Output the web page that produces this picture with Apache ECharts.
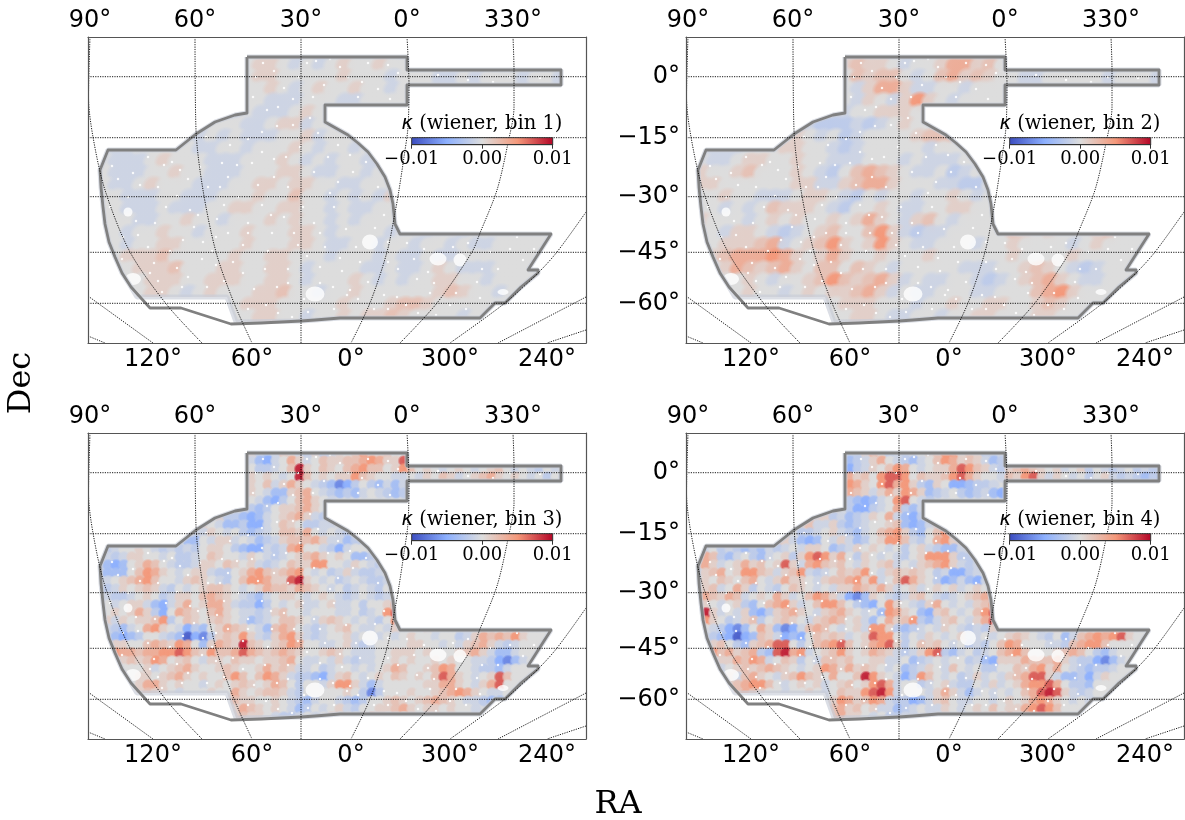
<!DOCTYPE html>
<html><head><meta charset="utf-8">
<style>html,body{margin:0;padding:0;background:#fff}#c{width:1185px;height:820px}</style>
<script src="https://cdn.jsdelivr.net/npm/echarts@6/dist/echarts.min.js"></script>
</head><body><div id="c"></div>
<script>
// Tick labels
const raTopPos=[2,107,213,319,425], raTopLabels=['90°','60°','30°','0°','330°'];
const raBottomPos=[65,164,263,362,459], raBottomLabels=['120°','60°','0°','300°','240°'];
const decPos=[39.7,100.7,159.7,215.3,266.3], decLabels=['0°','−15°','−30°','−45°','−60°'];
const binNames=['bin 1','bin 2','bin 3','bin 4'];
const colorTicks=[-0.01,0,0.01], colorTickLabels=['−0.01','0.00','0.01'];
// Map-plane geometry, in units of the panel's axes
const outline=[[159,20],[319,20],[319,33],[473,33],[473,48],[319,48],[319,68],[237,68],[237,85],[260,98],[270,106],[280,115],[289,127],[297,140],[302,153],[305,167],[307,187],[312,197],[463,197],[440,233],[450,233],[450,236],[433,250],[417,266],[407,266],[392,281],[252,281],[227,283],[213,284],[173,286],[143,287],[93,271],[62,271],[43,250],[34,236],[27,220],[21,205],[17,187],[15,170],[13,150],[12,133],[20,113],[88,113],[108,97],[127,85],[147,78],[159,76]];
const dataEdge=[[159,20],[319,20],[319,33],[473,33],[473,48],[319,48],[319,68],[237,68],[237,85],[260,98],[270,106],[280,115],[289,127],[297,140],[302,153],[305,167],[307,187],[312,197],[463,197],[440,233],[450,233],[450,236],[433,250],[417,266],[407,266],[392,281],[252,281],[227,283],[213,284],[148,285],[139,260],[49,260],[43,250],[34,236],[27,220],[21,205],[17,187],[15,170],[13,150],[12,133],[20,113],[88,113],[108,97],[127,85],[147,78],[159,76]];
const decLines=[39.7,100.7,159.7,215.3,266.3];
const meridians=[
 [[213,0],[213,306]],
 [[107,0],[108,93],[115,153],[128,215],[146,266],[164,306]],
 [[2,0],[0.5,60],[5,100],[17,153],[42,215],[79,268],[114,306]],
 [[0,259],[65,306]],
 [[0,299],[17,306]],
 [[319,0],[321,48],[320,90],[316,120],[311,153],[307,176],[299,215],[282,266],[263,306]],
 [[425,0],[426,33],[426,70],[420,106],[409,153],[392,196],[384,215],[349,266],[312,306]],
 [[498,175],[469,215],[450,236],[417,266],[362,306]],
 [[498,260],[410,306]],
 [[498,293],[459,306]]
];
const maskHoles=[[227,257,19,15],[282,205,16,15],[350,222,17,13],[372,223,13,13],[415,255,11,6],[40,175,9,9],[45,242,16,12]];
const specks=[[175,26],[219,26],[196,51],[179,73],[222,81],[174,95],[149,128],[134,126],[174,115],[24,129],[60,120],[45,136],[164,126],[189,89],[84,125],[92,133],[102,173],[89,159],[129,182],[174,168],[184,196],[155,208],[115,205],[95,203],[67,186],[219,219],[210,208],[232,230],[237,210],[177,232],[89,231],[119,250],[74,255],[140,196],[189,250],[155,236],[62,236],[319,206],[252,221],[287,191],[272,225],[262,253],[245,250],[309,260],[329,242],[365,210],[259,258],[392,261],[435,223],[389,245],[429,200],[342,256],[405,45],[422,40],[274,45],[280,26],[452,41],[240,120],[250,145],[265,135],[200,150],[215,170],[150,160],[120,150],[198,120],[228,24],[260,40],[300,28],[205,62],[183,178],[132,150],[70,150],[40,160],[35,200],[60,210],[145,225],[200,232],[225,60],[310,36],[350,38],[380,43],[128,228],[300,225],[280,245],[340,235],[402,215],[362,268],[300,272],[220,275],[190,276],
[168,40],[186,34],[242,22],[252,30],[290,52],[270,60],[302,62],[210,40],[236,48],[165,60],[190,70],[205,88],[230,96],[160,102],[142,108],[118,100],[250,108],[262,118],[278,125],[226,135],[186,140],[170,148],[140,140],[112,130],[100,142],[76,128],[52,148],[30,142],[22,170],[48,184],[78,170],[110,178],[136,168],[160,186],[196,180],[226,186],[246,170],[272,160],[290,150],[296,178],[258,192],[232,196],[206,196],[180,214],[160,196],[124,214],[106,190],[82,214],[50,198],[34,222],[66,226],[100,240],[114,222],[136,244],[166,252],[200,246],[216,262],[246,272],[270,262],[286,272],[318,268],[330,276],[348,278],[378,272],[394,232],[410,232],[422,212],[446,212],[336,212],[310,232],[296,258],[268,210],[326,222],[346,246],[368,256],[380,206],[300,205],[254,234],[160,272],[178,268],[204,280],[232,246],[186,122],[212,110],[242,156],[128,200],[70,244],[94,250]];
const levelCodes='abcdefghijklm';
const levels=[-0.009,-0.007,-0.005,-0.0035,-0.002,-0.001,0,0.001,0.002,0.0035,0.005,0.007,0.009];
// 12-unit cells, bins 1 and 2
const coarseStart=[0,13,13,13,13,13,10,9,8,1,1,1,1,1,1,1,1,2,2,2,3,3,11,12];
const bin1=['','gghgfgfghgghgf','ghhgfgfghgghggggfggggffgfgg','ghhggggghgggfgggffgfgggfggf','gghgfghgghggfg','ggfffgggffgggg','ggfgfffghg','ggggffghhfgg','gfgfgfffgghfgg','gffgggggffggfggghgfggfg','gfffghgggfffggghgfgfggff','gfffgghggfffggghhgffggfg','gffghgggfffgghhghhggffggg','ggfffggfffggghggiggfgfgfh','ggfffgfffgghhgghhggfgffgg','gggffgghggfggghghggfgfggg','ggfgghggfggghggghhgfggggfggfggfggggggg','gfgghhggggghggghhgffggfggfggfgffgggggg','ghhhiggggghgghhgggfgggfgffgffggggggg','gghhhiggghhgghhgfggggffgffghgfffgggg','gghhhgghhhgghhgfggghgfgfgghhggfggg','gghhgfghggghhiggfgghgggggghihggfg','gghhhggggghggghiihgggggg','gghhggfgghghhihggggfg'];
const bin2=['','hhggffghiighhg','hihhgfgghjjhiggggfggfggfggg','gihiigfgijhihggffgggggfgggf','gfhjjhffggfggg','gfhgfhkhgfgggg','gfffgghhhg','gfeeefefghgg','ghgfgefgggghii','ffffggghhggfefgggggfggg','gffghhgghggfffgggfgfffgg','hgghiggghgfegijihgffgefg','hhgggggghhffhijjhgggffeeg','gghggfffghhgfegfggfgghgfg','ggfgfgihhhgfegghgffgghhgg','hgggfghghgghghjhgfhigfggg','ggfhhgfefghiggikhfeffgggggihghggghiggg','ghhhijfghikhghkhgffgggfgghggggfghgggg','hijjjkjhghjhgghggghgggggghgggghggggg','ghjihijhgiigihgfgggggfffgghihgfefggg','gghgfgghikihijhfgffggfefghijhgffgg','gghggfghghhijhfgffgggffgggijkhggg','gghhhgggfgghgghhgghihggg','gghhgffggfgghhggghhgg'];
// 8-unit cells, bins 3 and 4
const fineStart=[0,0,19,19,19,19,19,19,19,18,15,13,12,11,2,1,1,1,1,1,1,1,2,2,2,2,2,3,3,4,4,5,6,17,17,18];
const bin3=['','','ghedfihfehefhgikihigg','gfdcfgjhfgihhiijkjhhl','hgeefgimhgihgijkiighkighgfghgfghigfgfegfg','ihghgfgmighghhkihggffgfhgihfghijhghgfgegf','ihgifhjhgfedbcegedfdf','jhgfddhijgfededfgfedef','hgfdcegijhgf','gfedeghhijhg','gheedcdfghijhfee','hhgfddeccfgihgeeffg','dffhgfgedefgiihjgfgfe','gddgfhhfgfdefhiiijhffde','efgghgfefefeghhgedccfefjkggfecfgg','gfefhhggfgeefgihggfhgfefghijhghgddeg','edcdghjigfeefhhgihghfefgihhkkggfhgfe','edddgikjhgfghhfeeghjkihijkgfgefhfeefg','ffghijkiggfhihgfegikkjhhlmhgfgefgfeef','fefhghihfegfghiihgfghjiihjihgfgefgfeg','gfeefghgefhhgijihgfedfghhgfghgfefgfefg','hgfghhfdcfhjghjjhfeecegfghffghffgegghj','ghghjhecgjihgijhgffefhiggfgggffgefgkl','hfhghhikegihghihgfdefgiihgfhihgfgfegk','fedfgjkhgfcedghjihgfdijigfefghigffgfhggghfggffghhghigggg','edcdeggfedacbehihkhfehjkhfefgghfggfgfghggfggefhjijikhgg','fhhggijihkjgdhjihmihghikjggffghfefgggghhggfgfhijhfefgg','kjjijjkklkihkiijljihijihgghihgfffgghhhghggghijhfddfgg','hhihikjghigfhhgihhghhijgffgfhfeffgghghgghghggffecbdfg','ggghfghijhgghihgghjhihffgefggfgfghjigghikjggfeedfggg','hghhghijhghggikigikjhfeedcfhigfghgihghgiljhgfghligg','ghjjhghggfghghihghjigeggfhkkhfdfggggghhjjhgfhjlgg','hihhgfggghggjhghiihfeggggghgebeggghgghijkjhgffgg','hihhgghgfedfggfedegghihghijihgffedd','ghjihghgfdegfghfegghhijhghhghggf','hihhgfeefgfghggghihghg'];
const bin4=['','','feehjhefefghikkhiheef','edefhjgfedfgikjhihfde','dcefhgikjgfghhjlkihfehijihghfghegfefgefee','hjhigkllkgihhikljhggfihklhfhgfgeghfefeded','ikjhgkljkhedhgccdeef','hjihfhjhkjhdefgedefdc','gedcdfgklgfe','hgeccefgjedf','ihhefdefhgjfdcef','ghiffhedefgghidcdfh','hgeefghfedfgijkhedgik','ihfdcdgfhfdeghkkifegjkh','fgefededfefgfhhgdefhghgfgeghfeddf','hjiedfgedfghehklkhjgehgfgfeghkkkhee','ijhfghjhighlhfjkihigfhghifgfhijkhfef','fhijghkkihfhikfefgihikgfhihihgefccefg','ghgihgijgfhjhhgfhiijkhkfgiljhgecdfdcf','hhifgjhegfegihgfgfhhjihjhfghfghghfghg','ijihjifghgjhfgikjhfcbdhgfefhigfefghijh','jhgfghedgijkhfgikkigedcgkhgfehjgfgfhik','mhfgfhdcehijhgfhijhgfgdkjhgdchigfgikl','khgefhieghihgfhijighfdgjhikedfhigfhjl','gfecbdgjhdbcfijigfghfkkhedefgfhgfefehgfghfeghefghijkjhgg','fedcacdihfcdcgihihfghlkkgegfhgfghffgfghihgfegdfijkjklhg','hhigedhijllgegijklighjklhegihigfgefegikjgggffeijkkiggg','kijhijedlmjkfghikhghjihfefhkledfgefgijkiggghijigedfgg','ghhjikjfgihegfiihigghhffgdefgfggefdchhhjiiijhfeecbdfg','fghihijihgfghkjhjhihgfgdefhgfigfgeeggihjkhjgfedeefgg','ghfijhgfhikihgjggimkhgfcekigfgefhfgfhijllhfddecfhgg','hijkkigfghghfghighkljfggefghfeegfhfghjkkljgeedggg','ijihggfgghgfgihhklmkfgggfhjhfdfgfgfgijlmlhfefgg','ghkjhikjfeecdfhigffggfghghjkjhgfgfg','hijhighffdefgffhgfghgighhjklkiggg','ijhhgfgeeffgfghgfghhhijh'];
const bins=[bin1,bin2,bin3,bin4];
const binCell=[12,12,8,8], binStart=[coarseStart,coarseStart,fineStart,fineStart];
const panelLeft=[88,686], panelTop=[37,433], panelW=498, panelH=306;
const cmap=['#3b4cc0','#8db0fe','#dddddd','#f4987a','#b40426'];

const cells=(b,size,start)=>{const out=[];b.forEach((row,j)=>{for(let k=0;k<row.length;k++){out.push([(start[j]+k)*size,j*size,levels[levelCodes.indexOf(row[k])]]);}});return out;};
const grids=[],xAxes=[],yAxes=[],series=[],graphics=[];
const cellSeriesIdx=[];
const poly=(pts,style,z,xi,yi)=>({type:'custom',coordinateSystem:'cartesian2d',xAxisIndex:xi,yAxisIndex:yi,silent:true,z,clip:true,data:[[0,0]],
  renderItem:(p,api)=>({type:'polygon',shape:{points:pts.map(q=>api.coord(q))},style})});
const mline=(pts,xi,yi,z,st,smooth)=>({type:'line',xAxisIndex:xi,yAxisIndex:yi,data:pts,symbol:'none',silent:true,z,smooth:smooth||false,lineStyle:st,clip:true});
const dots={color:'#000',width:0.9,type:[1.2,1.2]};
const mask=[[0,0],[0,306],[498,306],[498,0],[0,0]].concat(dataEdge,[dataEdge[0],[0,0]]);

for(let n=0;n<4;n++){
  const L=panelLeft[n%2], T=panelTop[n>>1], g=grids.length, xb=xAxes.length, yl=yAxes.length, size=binCell[n];
  const spread=size===8?0.82:1.05;
  grids.push({left:L,top:T,width:panelW,height:panelH,show:false});
  const lab={fontFamily:'DejaVu Sans',fontSize:24,color:'#000'};
  const axX=(pos,vals,labs,m)=>({type:'value',gridIndex:g,position:pos,min:0,max:panelW,z:20,splitLine:{show:false},axisTick:{show:false},
    axisLine:{show:true,onZero:false,lineStyle:{color:'#555',width:1.2}},
    axisLabel:Object.assign({show:true,margin:m,customValues:vals,formatter:v=>labs[vals.indexOf(v)]},lab)});
  xAxes.push(axX('bottom',raBottomPos,raBottomLabels,5),axX('top',raTopPos,raTopLabels,4));
  const axY=(pos,on)=>({type:'value',gridIndex:g,position:pos,inverse:true,min:0,max:panelH,z:20,splitLine:{show:false},axisTick:{show:false},
    axisLine:{show:true,onZero:false,lineStyle:{color:'#555',width:1.2}},
    axisLabel:on?Object.assign({show:true,margin:6,customValues:decPos,formatter:v=>decLabels[decPos.indexOf(v)]},lab):{show:false}});
  yAxes.push(axY('left',n%2===1),axY('right',false));
  series.push(poly(outline,{fill:'#dcdcdc'},1,xb,yl));
  cellSeriesIdx.push(series.length);
  series.push({type:'custom',coordinateSystem:'cartesian2d',xAxisIndex:xb,yAxisIndex:yl,silent:true,z:2,clip:true,
    encode:{x:0,y:1},data:cells(bins[n],size,binStart[n]),
    renderItem:(p,api)=>{const a=api.coord([api.value(0)+size/2,api.value(1)+size/2]);const c=api.visual('color');
      return {type:'circle',shape:{cx:a[0],cy:a[1],r:size*spread},style:{fill:new echarts.graphic.RadialGradient(0.5,0.5,0.5,[{offset:0,color:c},{offset:0.65,color:echarts.color.modifyAlpha(c,0.92)},{offset:1,color:echarts.color.modifyAlpha(c,0)}])}};}});
  series.push(poly(mask,{fill:'#fff'},3,xb,yl));
  series.push({type:'scatter',xAxisIndex:xb,yAxisIndex:yl,silent:true,z:4,symbol:'circle',symbolSize:v=>[v[2],v[3]],itemStyle:{color:'#fff'},data:maskHoles});
  series.push({type:'scatter',xAxisIndex:xb,yAxisIndex:yl,silent:true,z:4,symbol:'circle',symbolSize:2.5,itemStyle:{color:'#fff',opacity:0.85},data:specks});
  series.push(mline(dataEdge.concat([dataEdge[0]]),xb,yl,5,{color:'rgba(200,205,215,0.65)',width:5}));
  series.push(mline(outline.concat([outline[0]]),xb,yl,6,{color:'#808080',width:2.8,join:'round'}));
  decLines.forEach(v=>series.push(mline([[0,v],[panelW,v]],xb,yl,7,dots)));
  meridians.forEach(m=>series.push(mline(m,xb,yl,7,dots,m.length>2?0.3:false)));
  // colour bar
  const cg=grids.length;
  grids.push({left:L+323.7,top:T+100.7,width:141,height:7,show:true,z:9,borderColor:'#333',borderWidth:1,
    backgroundColor:new echarts.graphic.LinearGradient(0,0,1,0,cmap.map((c,i)=>({offset:i/4,color:c})))});
  xAxes.push({type:'value',gridIndex:cg,min:-0.01,max:0.01,position:'bottom',z:21,splitLine:{show:false},
    axisLine:{show:true,onZero:false,lineStyle:{color:'#333',width:1}},
    axisTick:{show:true,length:4,customValues:colorTicks,lineStyle:{color:'#333',width:1}},
    axisLabel:{show:true,margin:6,fontFamily:'DejaVu Serif',fontSize:18,color:'#000',customValues:colorTicks,formatter:v=>colorTickLabels[colorTicks.indexOf(v)]}});
  yAxes.push({type:'value',gridIndex:cg,min:0,max:1,show:false});
  series.push({type:'line',xAxisIndex:xAxes.length-1,yAxisIndex:yAxes.length-1,data:[],silent:true});
  graphics.push({type:'text',z:30,x:L+394,y:T+86.5,style:{text:'{k|κ} (wiener, '+binNames[n]+')',align:'center',verticalAlign:'middle',fontFamily:'DejaVu Serif',fontSize:19.5,fill:'#000',
    rich:{k:{fontFamily:'DejaVu Sans',fontStyle:'italic',fontSize:19.5,fill:'#000'}}}});
}
graphics.push({type:'text',x:618,y:805,z:30,style:{text:'RA',align:'center',verticalAlign:'middle',fontFamily:'DejaVu Serif',fontSize:32,fill:'#000'}});
graphics.push({type:'text',x:22,y:383,z:30,rotation:Math.PI/2,style:{text:'Dec',align:'center',verticalAlign:'middle',fontFamily:'DejaVu Serif',fontSize:32,fill:'#000'}});

const chart=echarts.init(document.getElementById('c'),null,{renderer:'canvas'});
chart.setOption({animation:false,backgroundColor:'#fff',grid:grids,xAxis:xAxes,yAxis:yAxes,series,graphic:graphics,
  visualMap:{show:false,type:'continuous',seriesIndex:cellSeriesIdx,dimension:2,min:-0.01,max:0.01,inRange:{color:cmap}}});
</script></body></html>
